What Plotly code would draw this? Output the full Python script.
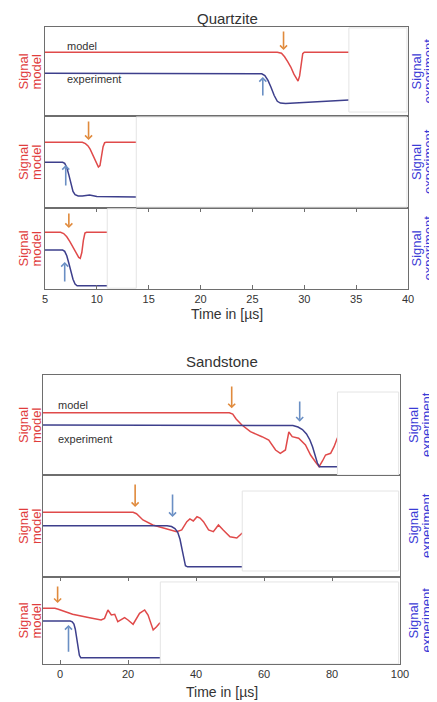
import plotly.graph_objects as go

# ---------------- Quartzite data (time in µs, normalized signal) ----------------
q1_model_t = [5, 27.4, 27.8, 28.1, 28.4, 28.7, 29.0, 29.25, 29.4, 29.55, 29.7, 29.85, 30.0, 34.3]
q1_model = [0.716, 0.716, 0.705, 0.666, 0.61, 0.55, 0.47, 0.41, 0.393, 0.45, 0.60, 0.70, 0.716, 0.716]
q1_exp_t = [5, 25.6, 25.9, 26.2, 26.5, 26.8, 27.1, 27.4, 27.7, 28.2, 29, 31.5, 34.3]
q1_exp = [0.48, 0.48, 0.475, 0.455, 0.40, 0.32, 0.23, 0.165, 0.145, 0.14, 0.145, 0.165, 0.18]

q2_model_t = [5, 8.6, 8.9, 9.15, 9.35, 9.6, 9.8, 10.0, 10.15, 10.3, 10.45, 10.6, 10.75, 10.9, 13.8]
q2_model = [0.714, 0.714, 0.70, 0.675, 0.64, 0.58, 0.52, 0.47, 0.446, 0.46, 0.55, 0.666, 0.71,
            0.714, 0.714]
q2_exp_t = [5, 6.7, 6.9, 7.1, 7.3, 7.5, 7.7, 7.9, 8.2, 8.6, 9.3, 10.0, 11.0, 13.8]
q2_exp = [0.497, 0.497, 0.485, 0.44, 0.36, 0.26, 0.18, 0.145, 0.13, 0.13, 0.14, 0.125, 0.125, 0.12]

q3_model_t = [5, 6.5, 6.8, 7.1, 7.4, 7.7, 8.0, 8.25, 8.4, 8.55, 8.7, 8.85, 9.0, 11]
q3_model = [0.70, 0.70, 0.685, 0.645, 0.585, 0.51, 0.44, 0.39, 0.379, 0.45, 0.60, 0.69, 0.70, 0.70]
q3_exp_t = [5, 6.7, 6.9, 7.1, 7.3, 7.5, 7.7, 7.9, 8.1, 11]
q3_exp = [0.48, 0.48, 0.465, 0.41, 0.317, 0.21, 0.12, 0.06, 0.04, 0.04]

q_model_arrow_t = [28.0, 9.2, 7.3]
q_model_arrow_from = [0.966, 0.957, 0.95]
q_model_arrow_to = [0.742, 0.739, 0.753]
q_exp_arrow_t = [26.0, 7.0, 6.9]
q_exp_arrow_from = [0.213, 0.228, 0.074]
q_exp_arrow_to = [0.438, 0.467, 0.333]

q_ticks = [5, 10, 15, 20, 25, 30, 35, 40]

# ---------------- Sandstone data ----------------
s1_model_t = [-5, 49.8, 50.8, 51.8, 53.5, 56, 59.4, 61.4, 63.4, 64.8, 66.3, 67.3, 68.3, 70.2,
              72.2, 73.7, 75.2, 76.2, 77.2, 78.1, 79.6, 80.6, 81.6]
s1_model = [0.623, 0.623, 0.61, 0.56, 0.50, 0.433, 0.383, 0.35, 0.25, 0.217, 0.25, 0.43, 0.383,
            0.367, 0.30, 0.20, 0.127, 0.083, 0.14, 0.20, 0.217, 0.283, 0.373]
s1_exp_t = [-5, 67.0, 68.5, 70.0, 71.3, 72.5, 73.5, 74.3, 75.0, 75.7, 76.3, 81.6]
s1_exp = [0.50, 0.50, 0.495, 0.48, 0.455, 0.41, 0.35, 0.28, 0.19, 0.12, 0.083, 0.083]

s2_model_t = [-5, 21.5, 22.5, 23.5, 24.4, 27.3, 31.3, 34.3, 35.8, 37.3, 38.2, 39.2, 40.3, 41.2,
              42.2, 43.7, 45.1, 46.6, 48, 50, 52, 53.6]
s2_model = [0.634, 0.634, 0.62, 0.585, 0.559, 0.51, 0.47, 0.444, 0.461, 0.542, 0.569, 0.549,
            0.591, 0.578, 0.542, 0.461, 0.444, 0.51, 0.461, 0.395, 0.382, 0.431]
s2_exp_t = [-5, 31.5, 32.8, 33.8, 34.6, 35.3, 35.9, 36.4, 36.9, 37.5, 53.6]
s2_exp = [0.503, 0.503, 0.495, 0.475, 0.44, 0.37, 0.27, 0.17, 0.11, 0.10, 0.10]

s3_model_t = [-5, -1.5, -0.5, 0.8, 3.7, 8.7, 12.1, 13.1, 14.1, 15.1, 16.1, 17.0, 19.0,
              20.0, 21.5, 23.4, 24.9, 25.9, 27.4, 28.4, 29.4]
s3_model = [0.64, 0.64, 0.63, 0.609, 0.571, 0.532, 0.506, 0.525, 0.621, 0.563, 0.571, 0.486,
            0.532, 0.506, 0.457, 0.583, 0.621, 0.563, 0.391, 0.429, 0.475]
s3_exp_t = [-5, 3.0, 3.6, 4.1, 4.5, 4.9, 5.3, 5.7, 6.1, 29.4]
s3_exp = [0.494, 0.494, 0.485, 0.46, 0.40, 0.30, 0.19, 0.10, 0.073, 0.073]

s_model_arrow_t = [50.5, 22.1, -0.7]
s_model_arrow_from = [0.90, 0.922, 0.908]
s_model_arrow_to = [0.667, 0.686, 0.70]
s_exp_arrow_t = [70.5, 33.1, 2.5]
s_exp_arrow_from = [0.75, 0.824, 0.123]
s_exp_arrow_to = [0.533, 0.588, 0.448]

s_ticks = [0, 20, 40, 60, 80, 100]

# ---------------- styling ----------------
FONT = "Liberation Sans, Arial, sans-serif"
RED = "#e04a4a"
NAVY = "#3d3f8c"
ORANGE = "#e08a3c"
LBLUE = "#6a8fc4"
FRAME = "#6e6e6e"
TITLE_RED = "#e03c3c"
TITLE_BLUE = "#3b3bd6"

# the page body has an 8px default margin; size the figure so it fills the window exactly
OFF = 8
W, H = 437 - OFF, 702 - OFF


def px(xpix):
    return (xpix - OFF) / W


def py(ypix):
    return 1 - (ypix - OFF) / H


panels = [
    dict(mt=q1_model_t, m=q1_model, et=q1_exp_t, e=q1_exp, top=27, bot=116, grp="q", k=0,
         box=(34.3, 39.9, 0.045, 0.99)),
    dict(mt=q2_model_t, m=q2_model, et=q2_exp_t, e=q2_exp, top=116, bot=208, grp="q", k=1,
         box=(13.8, 39.9, 0.01, 0.99)),
    dict(mt=q3_model_t, m=q3_model, et=q3_exp_t, e=q3_exp, top=208, bot=289, grp="q", k=2,
         box=(11.0, 13.8, 0.01, 0.99)),
    dict(mt=s1_model_t, m=s1_model, et=s1_exp_t, e=s1_exp, top=375, bot=475, grp="s", k=0,
         box=(81.6, 99.6, 0.0, 0.83)),
    dict(mt=s2_model_t, m=s2_model, et=s2_exp_t, e=s2_exp, top=475, bot=577, grp="s", k=1,
         box=(53.6, 99.6, 0.059, 0.843)),
    dict(mt=s3_model_t, m=s3_model, et=s3_exp_t, e=s3_exp, top=577, bot=664, grp="s", k=2,
         box=(29.5, 99.6, 0.0, 0.943)),
]

fig = go.Figure()
layout = dict(
    width=W, height=H, margin=dict(l=0, r=0, t=0, b=0, autoexpand=False),
    paper_bgcolor="white", plot_bgcolor="white", showlegend=False,
    font=dict(family=FONT, color="#333333", size=11),
)
annotations = []
shapes = []


def rot_text(x_pix, y_paper, text, color):
    return dict(x=px(x_pix), y=y_paper, xref="paper", yref="paper", text=text,
                textangle=-90, showarrow=False, xanchor="center", yanchor="middle",
                font=dict(size=13, color=color, family=FONT))


for i, p in enumerate(panels, start=1):
    xn = "x" if i == 1 else f"x{i}"
    yn = "y" if i == 1 else f"y{i}"
    y2n = f"y{i + 6}"
    xkey = "xaxis" if i == 1 else f"xaxis{i}"
    ykey = "yaxis" if i == 1 else f"yaxis{i}"
    y2key = f"yaxis{i + 6}"
    q = p["grp"] == "q"
    xdom = [px(45), px(408)] if q else [px(43), px(400)]
    xrange = [5, 40] if q else [-5, 100]
    ydom = [py(p["bot"]), py(p["top"])]
    bottom = p["k"] == 2

    fig.add_trace(go.Scatter(x=p["mt"], y=p["m"], mode="lines", xaxis=xn, yaxis=yn,
                             line=dict(color=RED, width=1.5), hoverinfo="skip"))
    fig.add_trace(go.Scatter(x=p["et"], y=p["e"], mode="lines", xaxis=xn, yaxis=y2n,
                             line=dict(color=NAVY, width=1.5), hoverinfo="skip"))

    layout[xkey] = dict(
        domain=xdom, range=xrange, anchor=yn, showgrid=False, zeroline=False,
        showline=True, linecolor=FRAME, linewidth=1,
        mirror="ticks" if bottom else True,
        ticks="inside" if bottom else "", ticklen=4, tickcolor=FRAME,
        tickvals=(q_ticks if q else s_ticks) if bottom else [],
        showticklabels=bottom, tickfont=dict(size=11, color="#333333"),
    )
    layout[ykey] = dict(
        domain=ydom, range=[0, 1], anchor=xn, showgrid=False, zeroline=False,
        showline=True, linecolor=FRAME, linewidth=1, mirror=True,
        ticks="", showticklabels=False,
    )
    layout[y2key] = dict(
        overlaying=yn, side="right", anchor=xn, range=[0, 1], showgrid=False,
        zeroline=False, showline=False, ticks="", showticklabels=False,
    )

    # blank covering box
    x0, x1, b0, b1 = p["box"]
    shapes.append(dict(type="rect", xref=xn, yref=yn, x0=x0, x1=x1, y0=b0, y1=b1,
                       fillcolor="white", line=dict(color="#e4e4e4", width=1), layer="above"))

    # arrows
    k = p["k"]
    if q:
        mat, maf, mato = q_model_arrow_t[k], q_model_arrow_from[k], q_model_arrow_to[k]
        eat, eaf, eato = q_exp_arrow_t[k], q_exp_arrow_from[k], q_exp_arrow_to[k]
    else:
        mat, maf, mato = s_model_arrow_t[k], s_model_arrow_from[k], s_model_arrow_to[k]
        eat, eaf, eato = s_exp_arrow_t[k], s_exp_arrow_from[k], s_exp_arrow_to[k]
    annotations.append(dict(x=mat, y=mato, ax=mat, ay=maf, xref=xn, yref=yn, axref=xn, ayref=yn,
                            text="", showarrow=True, arrowhead=4, arrowsize=0.85, arrowwidth=1.6,
                            arrowcolor=ORANGE))
    annotations.append(dict(x=eat, y=eato, ax=eat, ay=eaf, xref=xn, yref=yn, axref=xn, ayref=yn,
                            text="", showarrow=True, arrowhead=4, arrowsize=0.85, arrowwidth=1.6,
                            arrowcolor=LBLUE))

    # side titles (each line placed separately)
    yc = (ydom[0] + ydom[1]) / 2
    annotations.append(rot_text(23, yc, "Signal", TITLE_RED))
    annotations.append(rot_text(36, yc, "model", TITLE_RED))
    annotations.append(rot_text(416 if q else 413, yc, "Signal", TITLE_BLUE))
    annotations.append(rot_text(428 if q else 426, yc, "experiment", TITLE_BLUE))

    if k == 0:
        if q:
            annotations.append(dict(x=6.9, y=0.787, xref=xn, yref=yn, text="model",
                                    showarrow=False, xanchor="left", yanchor="middle",
                                    font=dict(size=11)))
            annotations.append(dict(x=6.9, y=0.416, xref=xn, yref=yn, text="experiment",
                                    showarrow=False, xanchor="left", yanchor="middle",
                                    font=dict(size=11)))
        else:
            annotations.append(dict(x=-1.1, y=0.70, xref=xn, yref=yn, text="model",
                                    showarrow=False, xanchor="left", yanchor="middle",
                                    font=dict(size=11)))
            annotations.append(dict(x=-1.1, y=0.36, xref=xn, yref=yn, text="experiment",
                                    showarrow=False, xanchor="left", yanchor="middle",
                                    font=dict(size=11)))


def title(xpix, ypix, text, size, yanchor="middle"):
    return dict(x=px(xpix), y=py(ypix), xref="paper", yref="paper", text=text,
                showarrow=False, xanchor="center", yanchor=yanchor,
                font=dict(size=size, color="#333333", family=FONT))


# group titles and x-axis titles
annotations.append(title(227, 8, "Quartzite", 15, yanchor="top"))
annotations.append(title(227, 314, "Time in [µs]", 14))
annotations.append(title(222, 361, "Sandstone", 15))
annotations.append(title(222, 692, "Time in [µs]", 14))

layout["annotations"] = annotations
layout["shapes"] = shapes
fig.update_layout(**layout)
fig.write_html("out.html")
